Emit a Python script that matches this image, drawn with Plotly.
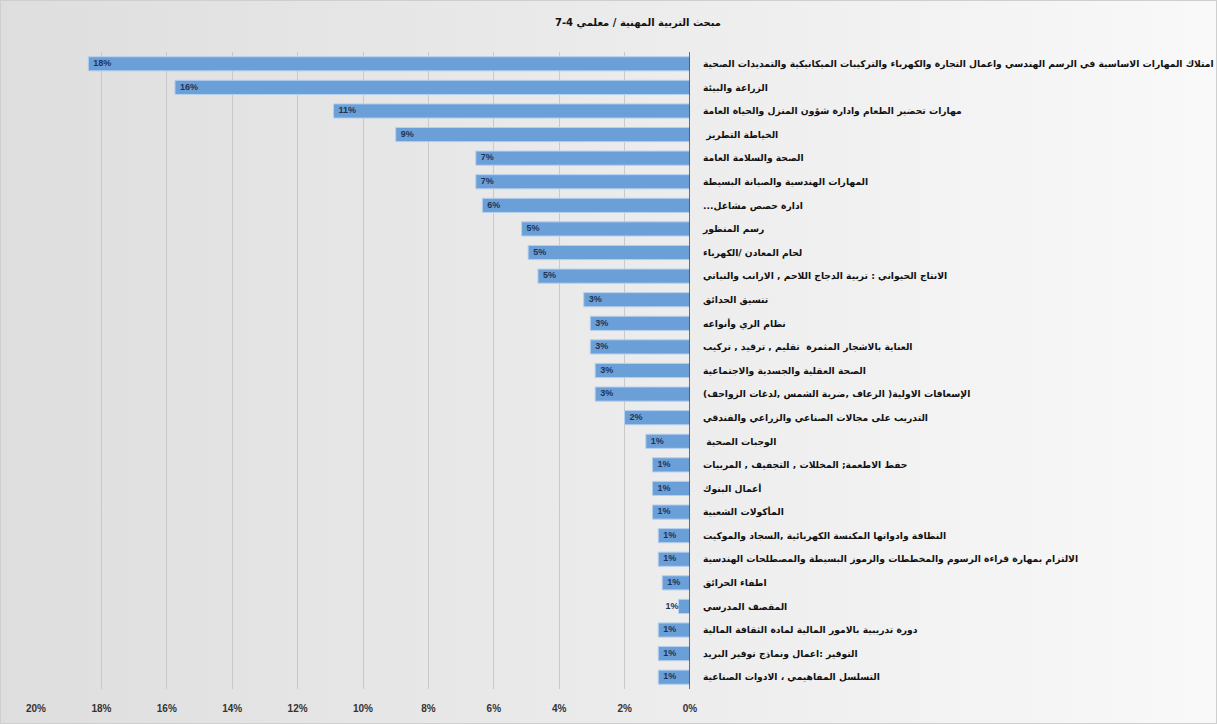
import base64
import plotly.graph_objects as go

categories = [
    "امتلاك المهارات الاساسية في الرسم الهندسي واعمال التجارة والكهرباء والتركيبات الميكانيكية والتمديدات الصحية",
    "الزراعة والبيئة",
    "مهارات تحضير الطعام وادارة شؤون المنزل والحياة العامة",
    " الخياطة التطريز",
    "الصحة والسلامة العامة",
    "المهارات الهندسية والصيانة البسيطة",
    "...ادارة حصص مشاغل",
    "رسم المنظور",
    "لحام المعادن /الكهرباء",
    "الانتاج الحيواني : تربية الدجاج اللاحم , الارانب والنباتي",
    "تنسيق الحدائق",
    "نظام الري وأنواعه",
    "العناية بالاشجار المثمرة  تقليم , ترقيد , تركيب",
    "الصحة العقلية والجسدية والاجتماعية",
    "الإسعافات الاولية( الرعاف ,ضربة الشمس ,لدغات الزواحف)",
    "التدريب على مجالات الصناعي والزراعي والفندقي",
    " الوجبات الصحية",
    "حفظ الاطعمة; المخللات , التجفيف , المربيات",
    "أعمال البنوك",
    "المأكولات الشعبية",
    "النظافة وادواتها المكنسة الكهربائية ,السجاد والموكيت",
    "الالتزام بمهارة قراءة الرسوم والمخططات والرموز البسيطة والمصطلحات الهندسية",
    "اطفاء الحرائق",
    "المقصف المدرسي",
    "دورة تدريبية بالامور المالية لمادة الثقافة المالية",
    "التوفير :اعمال ونماذج توفير البريد",
    "التسلسل المفاهيمي ، الادوات الصناعية",
]
values = [18.4, 15.75, 10.9, 9.0, 6.55, 6.55, 6.35, 5.15, 4.95, 4.65,
          3.25, 3.05, 3.05, 2.9, 2.9, 2.0, 1.35, 1.15, 1.15, 1.15,
          0.97, 0.97, 0.85, 0.35, 0.97, 0.97, 0.97]
value_labels = ["18%", "16%", "11%", "9%", "7%", "7%", "6%", "5%", "5%", "5%",
                "3%", "3%", "3%", "3%", "3%", "2%", "1%", "1%", "1%", "1%",
                "1%", "1%", "1%", "1%", "1%", "1%", "1%"]
x_ticks = [0, 2, 4, 6, 8, 10, 12, 14, 16, 18, 20]
x_tick_text = ["0%", "2%", "4%", "6%", "8%", "10%", "12%", "14%", "16%", "18%", "20%"]
title = "مبحث التربية المهنية / معلمي 4-7"

W, H = 1217, 724
ML, MR, MT, MB = 36, 527, 52, 35
pw, ph = W - ML - MR, H - MT - MB

svg = (
    "<svg xmlns='http://www.w3.org/2000/svg' width='1217' height='724' preserveAspectRatio='none'>"
    "<defs><linearGradient id='g' x1='0' y1='0' x2='1' y2='0'>"
    "<stop offset='0' stop-color='#dedede'/><stop offset='0.5' stop-color='#ebebeb'/>"
    "<stop offset='1' stop-color='#f9f9f9'/></linearGradient></defs>"
    "<rect width='1217' height='724' fill='url(#g)'/>"
    "<rect x='0.5' y='0.5' width='1216' height='723' fill='none' stroke='#cfcfcf'/></svg>"
)
src = "data:image/svg+xml;base64," + base64.b64encode(svg.encode()).decode()

fig = go.Figure()
fig.add_trace(go.Bar(
    x=values, y=categories, orientation="h",
    marker=dict(color="#6b9fd8", line=dict(color="#b5d0ee", width=1)),
    width=0.6, hoverinfo="skip", showlegend=False,
))
fig.add_trace(go.Scatter(
    x=values, y=categories, mode="text",
    text=["\u00a0\u00a0" + t for t in value_labels],
    textposition=["middle left" if v < 0.5 else "middle right" for v in values],
    textfont=dict(family="Liberation Sans", size=9, color="#1f3557", weight="bold"),
    hoverinfo="skip", showlegend=False,
))

n = len(categories)
fig.update_layout(
    width=W, height=H,
    margin=dict(l=ML, r=MR, t=MT, b=MB, autoexpand=False),
    paper_bgcolor="#ececec",
    plot_bgcolor="rgba(0,0,0,0)",
    title=dict(text=title, x=638 / W, xref="container", y=1 - 22 / H, yanchor="middle",
               xanchor="center",
               font=dict(family="DejaVu Sans", size=10, color="#111111", weight="bold")),
    images=[dict(source=src, xref="paper", yref="paper",
                 x=-ML / pw, y=1 + MT / ph, sizex=W / pw, sizey=H / ph,
                 xanchor="left", yanchor="top", sizing="stretch", layer="below")],
    xaxis=dict(range=[20, 0], tickvals=x_ticks, ticktext=x_tick_text, automargin=False,
               showgrid=True, gridcolor="#c9c9c9", gridwidth=1,
               zeroline=False, showline=False, ticks="", ticklabelstandoff=12,
               tickfont=dict(family="Liberation Sans", size=10, color="#333333", weight="bold")),
    yaxis=dict(side="right", range=[n - 0.5, -0.5], type="category", automargin=False,
               showgrid=False, zeroline=False, ticks="", showline=False,
               ticklabelstandoff=12,
               tickfont=dict(family="DejaVu Sans", size=9.2, color="#111111", weight="bold")),
    shapes=[dict(type="line", xref="x", yref="paper", x0=0, x1=0, y0=0, y1=1,
                 line=dict(color="#444444", width=1.5))],
    bargap=0.4,
)

fig.write_html("out.html", config={"displayModeBar": False},
               post_script="document.body.style.margin='0';")
